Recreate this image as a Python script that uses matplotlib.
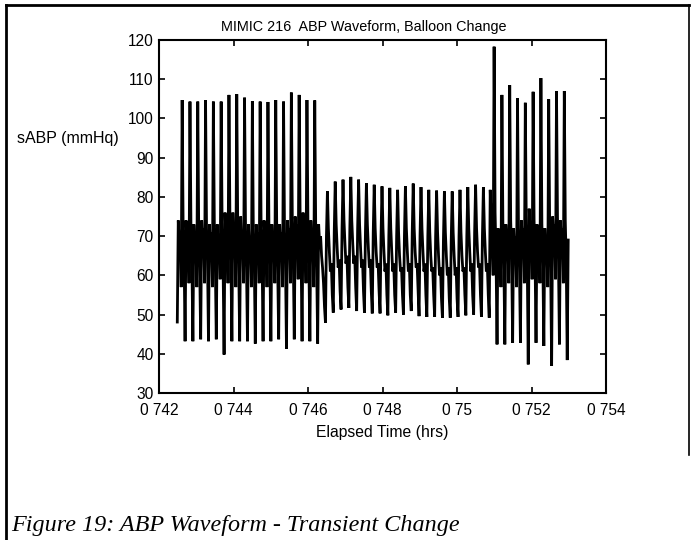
import numpy as np
import matplotlib
matplotlib.use("Agg")
import matplotlib.pyplot as plt
from matplotlib.lines import Line2D

# sampled ABP waveform, 8 samples per beat (mmHg)
t_first = 0.742491      # hrs, first sample
dt = 2.617e-5           # hrs between samples

# balloon pumping, first stretch
abp_pump_1 = [
    [48.1, 74, 68, 71, 57, 104.7, 72, 64],
    [43.2, 74, 67, 72, 58, 104.3, 73, 63],
    [43.2, 73, 66, 70, 57, 104.3, 71, 62],
    [43.7, 74, 68, 72, 58, 104.7, 72, 64],
    [43.2, 73, 66, 71, 57, 104.3, 73, 63],
    [43.7, 73, 67, 70, 59, 104.3, 72, 62],
    [39.8, 76, 69, 73, 58, 106.0, 74, 64],
    [43.2, 76, 68, 72, 57, 106.2, 73, 63],
    [43.2, 75, 67, 71, 58, 105.3, 72, 62],
    [43.2, 73, 66, 70, 57, 104.4, 71, 63],
    [42.6, 73, 67, 71, 58, 104.3, 72, 64],
    [43.2, 74, 68, 72, 57, 104.2, 73, 63],
    [43.2, 73, 66, 70, 58, 104.7, 72, 62],
    [43.7, 73, 67, 71, 57, 104.3, 71, 63],
    [41.3, 74, 68, 72, 58, 106.6, 74, 64],
    [43.7, 75, 69, 73, 59, 106.0, 75, 65],
    [43.2, 76, 69, 72, 58, 104.7, 74, 63],
    [43.2, 74, 67, 71, 57, 104.6, 72, 62],
]

# balloon change, unassisted beats
abp_change = [
    [42.6, 73, 68, 70, 65, 62, 58, 52],
    [47.9, 70, 81.4, 72, 66, 61, 63, 55],
    [50.5, 71, 83.9, 73, 67, 62, 64, 56],
    [51.3, 72, 84.4, 74, 68, 63, 65, 57],
    [51.7, 72, 85.1, 74, 68, 63, 65, 57],
    [50.9, 72, 84.4, 73, 67, 62, 64, 56],
    [50.5, 71, 83.5, 73, 67, 62, 64, 56],
    [50.3, 71, 83.1, 72, 66, 62, 63, 56],
    [50.3, 70, 82.7, 72, 66, 61, 63, 55],
    [49.8, 70, 82.3, 72, 66, 61, 63, 55],
    [50.5, 70, 81.8, 71, 65, 61, 62, 55],
    [50.0, 70, 82.7, 72, 66, 61, 63, 55],
    [50.9, 71, 83.4, 72, 66, 62, 63, 56],
    [49.6, 70, 82.5, 72, 66, 61, 63, 55],
    [49.4, 70, 81.8, 71, 65, 61, 62, 55],
    [49.4, 70, 81.6, 71, 65, 60, 62, 54],
    [49.2, 69, 81.4, 71, 65, 60, 62, 54],
    [49.2, 69, 81.4, 71, 65, 60, 62, 54],
    [49.4, 70, 81.8, 71, 65, 61, 62, 55],
    [49.8, 70, 82.5, 72, 66, 61, 63, 55],
    [50.0, 71, 83.1, 72, 66, 62, 63, 55],
    [49.4, 70, 82.5, 72, 66, 61, 63, 55],
]

# balloon pumping again
abp_pump_2 = [
    [49.2, 81.8, 74, 69, 60, 118.3, 76, 64],
    [42.4, 72, 67, 70, 57, 106.0, 73, 63],
    [42.4, 73, 68, 71, 58, 108.5, 74, 64],
    [42.8, 72, 66, 70, 57, 105.2, 72, 62],
    [42.8, 74, 68, 72, 58, 104.0, 73, 63],
    [37.3, 77, 70, 73, 59, 106.8, 74, 64],
    [42.8, 73, 67, 71, 58, 110.3, 73, 63],
    [42.0, 72, 66, 70, 57, 104.9, 72, 62],
    [36.9, 75, 69, 73, 59, 107.0, 75, 64],
    [42.4, 74, 68, 72, 58, 107.0, 74, 63],
    [38.4, 69],
]

xticks = [0.742, 0.744, 0.746, 0.748, 0.750, 0.752, 0.754]
xtick_labels = ["0 742", "0 744", "0 746", "0 748", "0 75", "0 752", "0 754"]
yticks = [30, 40, 50, 60, 70, 80, 90, 100, 110, 120]

abp = [p for beat in abp_pump_1 + abp_change + abp_pump_2 for p in beat]
t = t_first + dt * np.arange(len(abp))

fig = plt.figure(figsize=(6.91, 5.40), dpi=100)
ax = fig.add_axes([0.2301, 0.2722, 0.6469, 0.6537])

ax.plot(t, abp, color="black", linewidth=2.0, solid_joinstyle="miter")

ax.set_xlim(0.742, 0.754)
ax.set_ylim(30, 120)
ax.set_xticks(xticks)
ax.set_xticklabels(xtick_labels)
ax.set_yticks(yticks)

ax.tick_params(direction="in", length=4, width=1.2, top=True, right=True,
               labelsize=11.2, pad=4)
ax.tick_params(axis="x", pad=7)
for lab in ax.get_xticklabels() + ax.get_yticklabels():
    lab.set_family("Liberation Sans")
for s in ax.spines.values():
    s.set_linewidth(1.5)

fig.text(364 / 691, 1 - 27 / 540, "MIMIC 216  ABP Waveform, Balloon Change",
         fontsize=10.4, family="Liberation Sans", ha="center", va="center")
ax.set_xlabel("Elapsed Time (hrs)", fontsize=11.3, family="Liberation Sans", labelpad=5)
fig.text(17 / 691, 1 - 138 / 540, "sABP (mmHq)", fontsize=11.5,
         family="Liberation Sans", ha="left", va="center")

fig.text(11 / 691, 1 - 525 / 540, "Figure 19: ABP Waveform - Transient Change",
         fontsize=17.4, family="Liberation Serif", style="italic",
         ha="left", va="center")

# page frame from the scanned document
fw = 2.0
fig.add_artist(Line2D([6 / 691, 689 / 691], [1 - 5 / 540, 1 - 5 / 540],
                      transform=fig.transFigure, color="black", linewidth=fw))
fig.add_artist(Line2D([6 / 691, 6 / 691], [0, 1 - 5 / 540],
                      transform=fig.transFigure, color="black", linewidth=fw))
fig.add_artist(Line2D([689 / 691, 689 / 691], [1 - 455 / 540, 1 - 5 / 540],
                      transform=fig.transFigure, color="black", linewidth=1.2))

fig.savefig("out.png", dpi=100)
